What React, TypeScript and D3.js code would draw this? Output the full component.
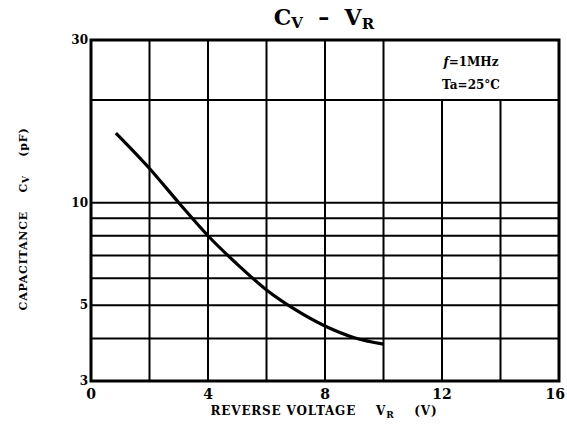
import React from "react";
import * as d3 from "d3";

// reverse voltage (V) vs capacitance (pF)
const voltage = [0.85, 2, 3, 4, 5, 6, 7, 8, 9, 10];
const capacitance = [16, 12.6, 10, 8.0, 6.6, 5.55, 4.85, 4.35, 4.02, 3.85];

const xTicks = [0, 4, 8, 12, 16];
const xGrid = [2, 4, 6, 8, 10, 12, 14];
const yTicks = [3, 5, 10, 30];
const yGrid = [4, 5, 6, 7, 8, 9, 10, 20];
// vertical lines cut short by the condition box
const boxedGrid = [12, 14];

const W = 567;
const H = 437;
const margin = { top: 40, left: 91, bottom: 56, right: 8 };
const font = "'DejaVu Serif', 'Liberation Serif', serif";

export default function App() {
  const x = d3.scaleLinear().domain([0, 16]).range([margin.left, W - margin.right]);
  const y = d3.scaleLog().domain([3, 30]).range([H - margin.bottom, margin.top]);

  const line = d3
    .line<number>()
    .x((_, i) => x(voltage[i]))
    .y((d) => y(d))
    .curve(d3.curveMonotoneX);

  return (
    <div style={{ position: "absolute", left: 0, top: 0 }}>
      <svg width={W} height={H} style={{ display: "block", background: "#fff" }}>
        {/* title */}
        <text x={324} y={25} textAnchor="middle" fontFamily={font} fontWeight="bold" fontSize={22} xmlSpace="preserve">
          C<tspan fontSize={15} dy={3}>V</tspan>
          <tspan dy={-3}>{"  –  V"}</tspan>
          <tspan fontSize={15} dy={4}>R</tspan>
        </text>

        {/* horizontal grid */}
        {yGrid.map((v) => (
          <line key={"h" + v} x1={x(0)} x2={x(16)} y1={y(v)} y2={y(v)} stroke="#000" strokeWidth={2} />
        ))}
        {/* vertical grid */}
        {xGrid.map((v) => (
          <line
            key={"v" + v}
            x1={x(v)}
            x2={x(v)}
            y1={boxedGrid.includes(v) ? y(20) : y(30)}
            y2={y(3)}
            stroke="#000"
            strokeWidth={2}
          />
        ))}
        <rect
          x={x(0)}
          y={y(30)}
          width={x(16) - x(0)}
          height={y(3) - y(30)}
          fill="none"
          stroke="#000"
          strokeWidth={3}
        />

        {/* curve */}
        <path d={line(capacitance) || ""} fill="none" stroke="#000" strokeWidth={3.2} />

        {/* conditions */}
        <text x={471} y={66} textAnchor="middle" fontFamily={font} fontWeight="bold" fontSize={12}>
          <tspan fontStyle="italic">f</tspan>=1MHz
        </text>
        <text x={471} y={89} textAnchor="middle" fontFamily={font} fontWeight="bold" fontSize={12}>
          Ta=25°C
        </text>

        {/* y tick labels */}
        {yTicks.map((v) => (
          <text
            key={"yt" + v}
            x={x(0) - 3}
            y={y(v) + 4}
            textAnchor="end"
            fontFamily={font}
            fontWeight="bold"
            fontSize={12}
          >
            {v}
          </text>
        ))}
        {/* x tick labels */}
        {xTicks.map((v, i) => {
          const last = i === xTicks.length - 1;
          return (
            <text
              key={"xt" + v}
              x={last ? W - 2 : x(v)}
              y={y(3) + 18}
              textAnchor={last ? "end" : "middle"}
              fontFamily={font}
              fontWeight="bold"
              fontSize={14}
            >
              {v}
            </text>
          );
        })}

        {/* axis titles */}
        <text
          x={324}
          y={415}
          textAnchor="middle"
          fontFamily={font}
          fontWeight="bold"
          fontSize={12}
          letterSpacing={0.8}
          xmlSpace="preserve"
        >
          REVERSE VOLTAGE{"    "}V<tspan fontSize={9} dy={3}>R</tspan>
          <tspan dy={-3}>{"    "}(V)</tspan>
        </text>
        <text
          transform={`translate(27, 219) rotate(-90)`}
          textAnchor="middle"
          fontFamily={font}
          fontWeight="bold"
          fontSize={11}
          letterSpacing={0.8}
          xmlSpace="preserve"
        >
          CAPACITANCE{"    "}C<tspan fontSize={9} dy={2}>V</tspan>
          <tspan dy={-2}>{"    "}(pF)</tspan>
        </text>
      </svg>
    </div>
  );
}
